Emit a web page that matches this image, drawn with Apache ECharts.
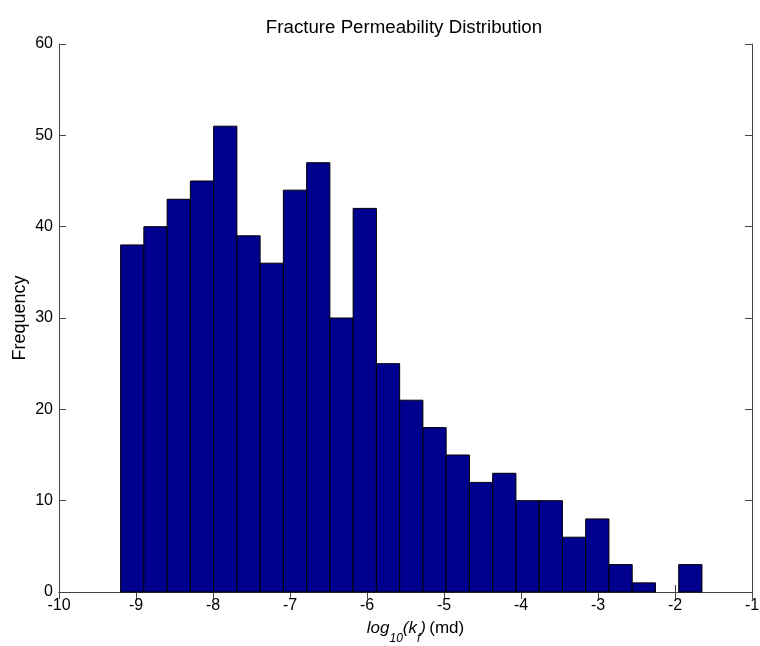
<!DOCTYPE html>
<html>
<head>
<meta charset="utf-8">
<title>Fracture Permeability Distribution</title>
<script src="https://cdn.jsdelivr.net/npm/echarts@6/dist/echarts.min.js"></script>
<style>
  html, body { margin: 0; padding: 0; background: #fff; }
  #chart { width: 760px; height: 646px; }
</style>
</head>
<body>
<div id="chart"></div>
<script>
// Histogram of log10 fracture permeability (25 equal-width bins)
const binCenters = [-9.049, -8.747, -8.445, -8.143, -7.841, -7.539, -7.237, -6.935, -6.633, -6.331,
                    -6.029, -5.727, -5.425, -5.123, -4.821, -4.519, -4.217, -3.915, -3.613, -3.311,
                    -3.009, -2.707, -2.405, -2.103, -1.801];
const binWidth = 0.302;
const counts = [38, 40, 43, 45, 51, 39, 36, 44, 47, 30,
                42, 25, 21, 18, 15, 12, 13, 10, 10, 6,
                8, 3, 1, 0, 3];
const xTicks = [-10, -9, -8, -7, -6, -5, -4, -3, -2, -1];
const yTicks = [0, 10, 20, 30, 40, 50, 60];

const chart = echarts.init(document.getElementById('chart'), null, { renderer: 'canvas' });

const FONT = 'Liberation Sans, Arial, sans-serif';
const axisLine = { show: true, lineStyle: { color: '#444', width: 1 } };
const tickIn = { show: true, inside: true, length: 7, lineStyle: { color: '#444', width: 1 } };
const labelFont = { color: '#000', fontSize: 16, fontFamily: FONT };

chart.setOption({
  animation: false,
  backgroundColor: '#fff',
  title: {
    text: 'Fracture Permeability Distribution',
    left: 399, top: 13, textAlign: 'center',
    textStyle: { fontSize: 18.7, fontWeight: 'normal', color: '#000', fontFamily: FONT }
  },
  grid: { left: 59, right: 8, top: 44, bottom: 54, containLabel: false, outerBoundsMode: 'none' },
  xAxis: [
    {
      type: 'value', min: xTicks[0], max: xTicks[xTicks.length - 1], interval: 1,
      position: 'bottom',
      axisLine: axisLine, axisTick: tickIn, splitLine: { show: false },
      axisLabel: Object.assign({ margin: 6 }, labelFont),
      name: '{i|log}{s|10}{i|(k}{s|f}{i|)} {n|(md)}',
      nameLocation: 'middle', nameGap: 28, nameMoveOverlap: false,
      nameTextStyle: {
        padding: [0, 0, 0, 20],
        rich: {
          i: { fontSize: 17, fontStyle: 'italic', color: '#000', fontFamily: FONT, lineHeight: 18, verticalAlign: 'top' },
          s: { fontSize: 12, fontStyle: 'italic', color: '#000', fontFamily: FONT, lineHeight: 18, verticalAlign: 'top', padding: [13, 0, 0, 0] },
          n: { fontSize: 17, color: '#000', fontFamily: FONT, lineHeight: 18, verticalAlign: 'top' }
        }
      }
    },
    {
      type: 'value', min: xTicks[0], max: xTicks[xTicks.length - 1], interval: 1,
      position: 'top',
      axisLine: axisLine, axisTick: tickIn, splitLine: { show: false },
      axisLabel: { show: false }
    }
  ],
  yAxis: [
    {
      type: 'value', min: yTicks[0], max: yTicks[yTicks.length - 1], interval: 10,
      position: 'left',
      axisLine: axisLine, axisTick: tickIn, splitLine: { show: false },
      axisLabel: Object.assign({ margin: 6 }, labelFont),
      name: 'Frequency', nameLocation: 'middle', nameGap: 30, nameRotate: 90, nameMoveOverlap: false,
      nameTextStyle: { fontSize: 18, color: '#000', fontFamily: FONT }
    },
    {
      type: 'value', min: yTicks[0], max: yTicks[yTicks.length - 1], interval: 10,
      position: 'right',
      axisLine: axisLine, axisTick: tickIn, splitLine: { show: false },
      axisLabel: { show: false }
    }
  ],
  series: [{
    type: 'custom',
    xAxisIndex: 0, yAxisIndex: 0,
    data: binCenters.map((c, i) => [c, counts[i]]),
    renderItem: function (params, api) {
      const c = api.value(0), n = api.value(1);
      if (n <= 0) return null;
      const p0 = api.coord([c - binWidth / 2, n]);
      const p1 = api.coord([c + binWidth / 2, 0]);
      return {
        type: 'rect',
        shape: { x: p0[0], y: p0[1], width: p1[0] - p0[0], height: p1[1] - p0[1] },
        style: { fill: '#00008F', stroke: '#000', lineWidth: 1 }
      };
    },
    z: 1
  }]
});
</script>
</body>
</html>
